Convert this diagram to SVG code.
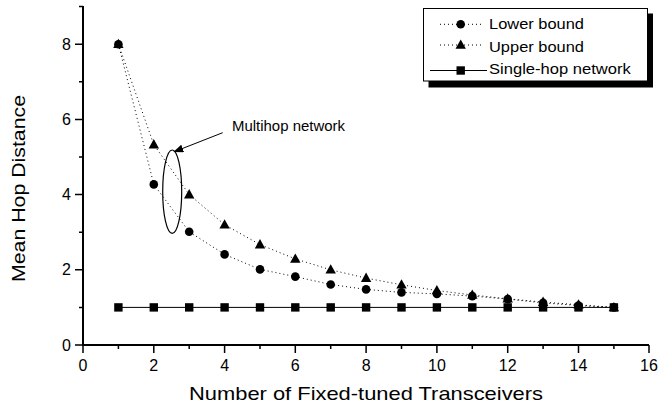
<svg xmlns="http://www.w3.org/2000/svg" width="660" height="407" viewBox="0 0 660 407">
<defs>
<style>
text{font-family:"Liberation Sans",Arial,sans-serif;fill:#000}
.tick{font-size:16px}
.ax{stroke:#000;stroke-width:2;fill:none}
.tk{stroke:#000;stroke-width:1.5}
.dot{stroke:#000;stroke-width:1;fill:none;stroke-dasharray:1 3}
.solid{stroke:#000;stroke-width:1;fill:none}
</style>
<circle id="c" r="4.3" fill="#000"/>
<path id="t" d="M0,-5.5 L5.2,3.8 L-5.2,3.8 Z" fill="#000"/>
<rect id="s" x="-4.2" y="-4.2" width="8.4" height="8.4" fill="#000"/>
<marker id="ah" markerWidth="10" markerHeight="8" refX="9" refY="4" orient="auto" markerUnits="userSpaceOnUse">
<path d="M0,0 L10,4 L0,8 Z" fill="#000"/>
</marker>
</defs>
<rect width="660" height="407" fill="#fff"/>

<g id="axes">
<path class="ax" d="M83,6 V345 H649"/>
<g class="tk">
<path d="M75,345H83M75,269.8H83M75,194.6H83M75,119.4H83M75,44.2H83"/>
<path d="M79,307.4H83M79,232.2H83M79,157H83M79,81.8H83M79,6.6H83"/>
<path d="M83,345V353M153.8,345V353M224.6,345V353M295.3,345V353M366.1,345V353M436.9,345V353M507.7,345V353M578.5,345V353M649,345V353"/>
<path d="M118.4,345V349M189.2,345V349M260,345V349M330.7,345V349M401.5,345V349M472.3,345V349M543.1,345V349M613.9,345V349"/>
</g>
<g class="tick" text-anchor="end">
<text x="71" y="350.5">0</text>
<text x="71" y="275.3">2</text>
<text x="71" y="200.1">4</text>
<text x="71" y="124.9">6</text>
<text x="71" y="49.7">8</text>
</g>
<g class="tick" text-anchor="middle">
<text x="83" y="371">0</text>
<text x="153.8" y="371">2</text>
<text x="224.6" y="371">4</text>
<text x="295.3" y="371">6</text>
<text x="366.1" y="371">8</text>
<text x="436.9" y="371">10</text>
<text x="507.7" y="371">12</text>
<text x="578.5" y="371">14</text>
<text x="649" y="371">16</text>
</g>
<text x="189" y="400" font-size="19" textLength="354" lengthAdjust="spacingAndGlyphs">Number of Fixed-tuned Transceivers</text>
<text transform="translate(25,282) rotate(-90)" x="0" y="0" font-size="19" textLength="187" lengthAdjust="spacingAndGlyphs">Mean Hop Distance</text>
</g>

<g id="connectors">
<polyline class="dot" points="118.4,44.2 153.8,184.4 189.2,231.8 224.6,254.4 260,269.4 295.3,276.6 330.7,284.5 366.1,289.4 401.5,292.4 436.9,293.9 472.3,296.1 507.7,299.1 543.1,302.9 578.5,305.5 613.9,307.4"/>
<polyline class="dot" points="118.4,44.2 153.8,144.6 189.2,194.6 224.6,224.7 260,244.6 295.3,258.9 330.7,269.8 366.1,278.1 401.5,284.8 436.9,290.5 472.3,295 507.7,298.8 543.1,302.1 578.5,304.8 613.9,307.4"/>
<polyline class="solid" points="118.4,307.4 613.9,307.4"/>
<line class="solid" x1="222.7" y1="132.7" x2="174.3" y2="151.7" stroke-width="1.2" marker-end="url(#ah)"/>
</g>

<g id="lower-bound">
<use href="#c" x="118.4" y="44.2"/><use href="#c" x="153.8" y="184.4"/><use href="#c" x="189.2" y="231.8"/><use href="#c" x="224.6" y="254.4"/><use href="#c" x="260" y="269.4"/><use href="#c" x="295.3" y="276.6"/><use href="#c" x="330.7" y="284.5"/><use href="#c" x="366.1" y="289.4"/><use href="#c" x="401.5" y="292.4"/><use href="#c" x="436.9" y="293.9"/><use href="#c" x="472.3" y="296.1"/><use href="#c" x="507.7" y="299.1"/><use href="#c" x="543.1" y="302.9"/><use href="#c" x="578.5" y="305.5"/><use href="#c" x="613.9" y="307.4"/>
</g>
<g id="upper-bound">
<use href="#t" x="118.4" y="44.2"/><use href="#t" x="153.8" y="144.6"/><use href="#t" x="189.2" y="194.6"/><use href="#t" x="224.6" y="224.7"/><use href="#t" x="260" y="244.6"/><use href="#t" x="295.3" y="258.9"/><use href="#t" x="330.7" y="269.8"/><use href="#t" x="366.1" y="278.1"/><use href="#t" x="401.5" y="284.8"/><use href="#t" x="436.9" y="290.5"/><use href="#t" x="472.3" y="295"/><use href="#t" x="507.7" y="298.8"/><use href="#t" x="543.1" y="302.1"/><use href="#t" x="578.5" y="304.8"/><use href="#t" x="613.9" y="307.4"/>
</g>
<g id="single-hop">
<use href="#s" x="118.4" y="307.4"/><use href="#s" x="153.8" y="307.4"/><use href="#s" x="189.2" y="307.4"/><use href="#s" x="224.6" y="307.4"/><use href="#s" x="260" y="307.4"/><use href="#s" x="295.3" y="307.4"/><use href="#s" x="330.7" y="307.4"/><use href="#s" x="366.1" y="307.4"/><use href="#s" x="401.5" y="307.4"/><use href="#s" x="436.9" y="307.4"/><use href="#s" x="472.3" y="307.4"/><use href="#s" x="507.7" y="307.4"/><use href="#s" x="543.1" y="307.4"/><use href="#s" x="578.5" y="307.4"/><use href="#s" x="613.9" y="307.4"/>
</g>

<g id="multihop-annotation">
<ellipse cx="172.2" cy="191.7" rx="9.5" ry="41.7" fill="none" stroke="#000" stroke-width="1.2"/>
<text x="232" y="130.7" font-size="15" textLength="113" lengthAdjust="spacingAndGlyphs">Multihop network</text>
</g>

<g id="legend">
<rect x="428.5" y="13.5" width="224.5" height="74" fill="#000"/>
<rect x="423.5" y="8.5" width="224" height="72.5" fill="#fff" stroke="#000" stroke-width="1"/>
<line class="dot" x1="440" y1="24.3" x2="483" y2="24.3"/>
<use href="#c" x="460.7" y="24.3"/>
<text x="489" y="29" font-size="15.5" textLength="95" lengthAdjust="spacingAndGlyphs">Lower bound</text>
<line class="dot" x1="440" y1="45" x2="483" y2="45"/>
<use href="#t" x="460.7" y="45"/>
<text x="489" y="51.5" font-size="15.5" textLength="95" lengthAdjust="spacingAndGlyphs">Upper bound</text>
<line class="solid" x1="430" y1="70.5" x2="487" y2="70.5"/>
<use href="#s" x="460.7" y="70.5"/>
<text x="489" y="74" font-size="15.5" textLength="141.7" lengthAdjust="spacingAndGlyphs">Single-hop network</text>
</g>
</svg>
